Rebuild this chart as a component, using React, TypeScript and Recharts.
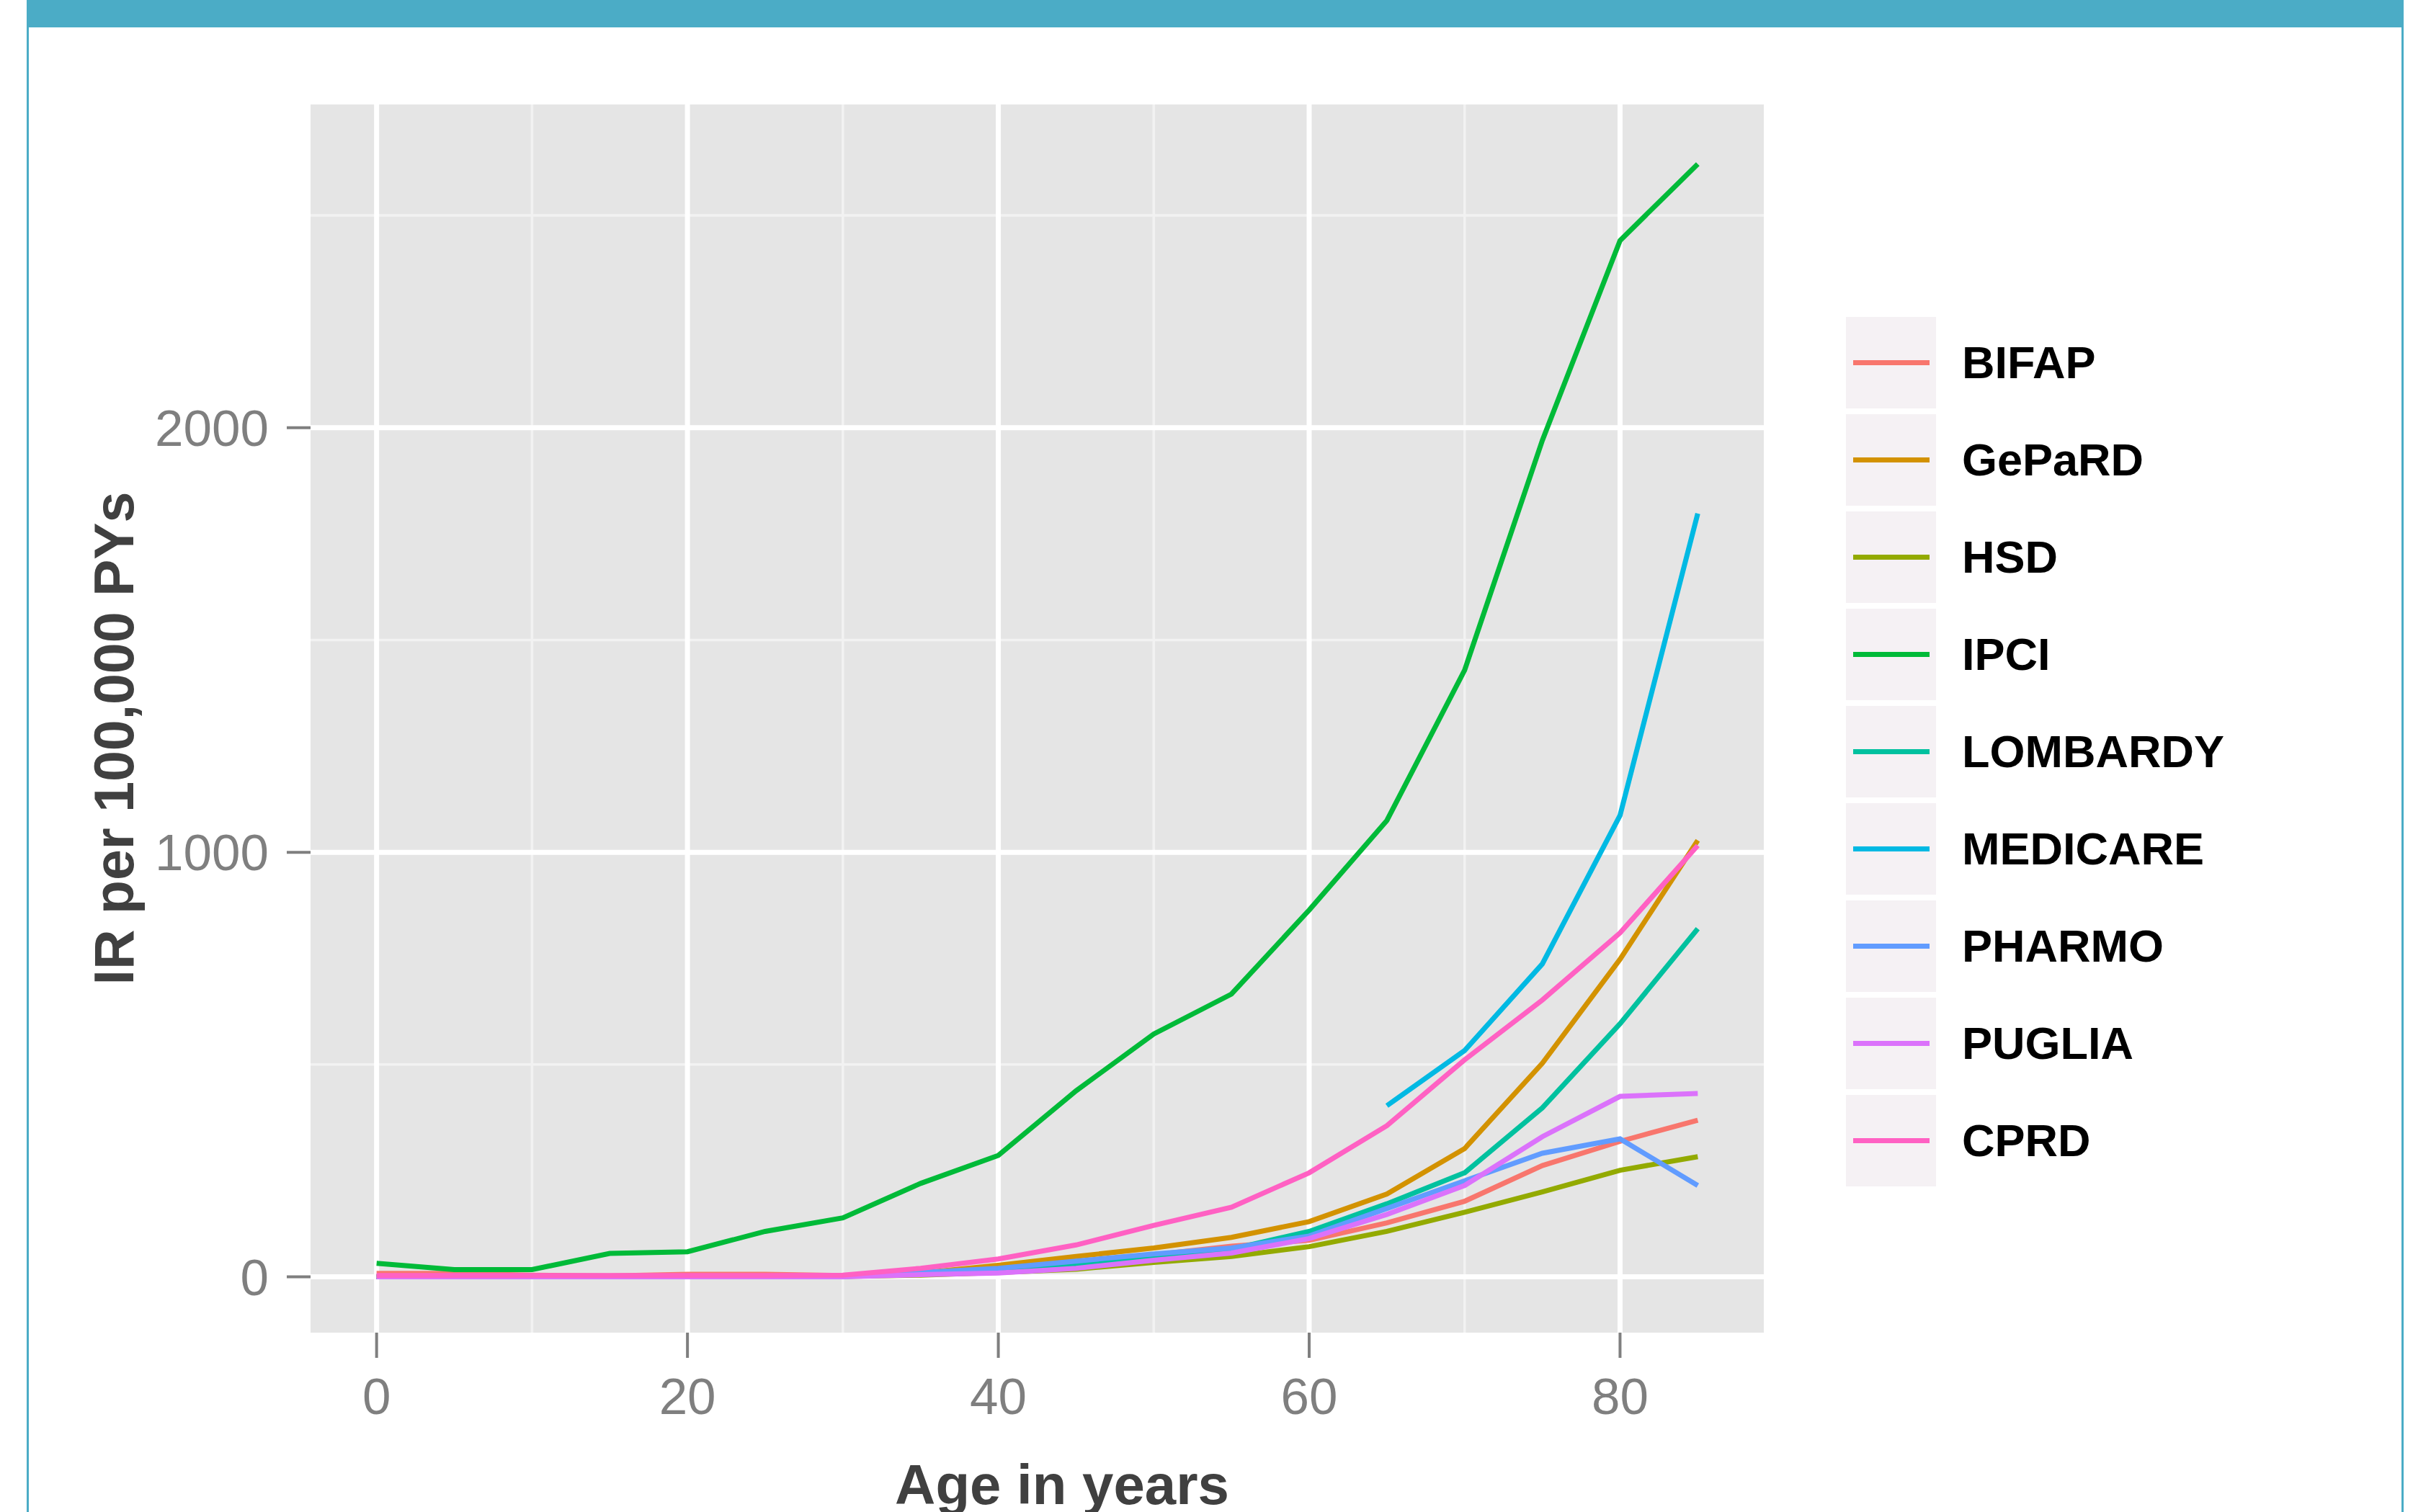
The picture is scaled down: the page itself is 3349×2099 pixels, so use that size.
import React from 'react';
import { LineChart, Line, XAxis, YAxis, CartesianGrid, Legend } from 'recharts';

const FONT = '"Liberation Sans", Arial, Helvetica, sans-serif';

// age groups (years)
const AGES = [0, 5, 10, 15, 20, 25, 30, 35, 40, 45, 50, 55, 60, 65, 70, 75, 80, 85];

// incidence rate per 100,000 person-years
const BIFAP = [8, 8, 4, 2, 6, 6, 3, 8, 15, 30, 52, 72, 86, 127, 178, 262, 319, 369];
const GEPARD = [0, 0, 0, 0, 0, 0, 2, 9, 27, 48, 68, 93, 130, 195, 302, 503, 748, 1028];
const HSD = [0, 0, 0, 0, 0, 0, 1, 4, 10, 18, 34, 48, 71, 107, 152, 200, 251, 283];
const IPCI = [32, 17, 17, 55, 59, 107, 139, 220, 286, 438, 572, 666, 864, 1075, 1429, 1970, 2441, 2621];
const LOMBARDY = [0, 0, 0, 0, 0, 0, 1, 6, 14, 29, 48, 65, 107, 172, 245, 398, 596, 820];
const MEDICARE = [null, null, null, null, null, null, null, null, null, null, null, null, null, 403, 533, 737, 1087, 1798];
const PHARMO = [0, 0, 0, 0, 0, 0, 1, 10, 20, 37, 54, 68, 96, 161, 226, 291, 325, 215];
const PUGLIA = [0, 0, 0, 0, 0, 0, 0, 5, 9, 20, 39, 56, 90, 147, 215, 330, 425, 432];
const CPRD = [3, 3, 3, 3, 3, 3, 4, 20, 42, 75, 121, 164, 245, 356, 511, 652, 810, 1016];

const X_TICKS = [0, 20, 40, 60, 80];
const X_MINOR = [10, 30, 50, 70];
const Y_TICKS = [0, 1000, 2000];
const Y_MINOR = [500, 1500, 2500];

const SERIES = [
  { name: 'BIFAP', color: '#F8766D', values: BIFAP },
  { name: 'GePaRD', color: '#D39200', values: GEPARD },
  { name: 'HSD', color: '#93AA00', values: HSD },
  { name: 'IPCI', color: '#00BA38', values: IPCI },
  { name: 'LOMBARDY', color: '#00C19F', values: LOMBARDY },
  { name: 'MEDICARE', color: '#00B9E3', values: MEDICARE },
  { name: 'PHARMO', color: '#619CFF', values: PHARMO },
  { name: 'PUGLIA', color: '#DB72FB', values: PUGLIA },
  { name: 'CPRD', color: '#FF61C3', values: CPRD },
];

const data = AGES.map((age, i) => {
  const row: Record<string, number | null> = { age };
  SERIES.forEach(s => { row[s.name] = s.values[i]; });
  return row;
});

const LegendBox = () => (
  <div style={{ fontFamily: FONT }}>
    {SERIES.map(s => (
      <div key={s.name} style={{ display: 'flex', alignItems: 'center', height: 127, marginBottom: 8 }}>
        <div style={{ width: 125, height: 127, background: '#F5F1F4', position: 'relative' }}>
          <div style={{ position: 'absolute', left: 10, right: 9, top: 60, height: 7, background: s.color }} />
        </div>
        <span style={{ marginLeft: 36, fontSize: 63, fontWeight: 'bold', color: '#000', lineHeight: 1 }}>
          {s.name}
        </span>
      </div>
    ))}
  </div>
);

const tickStyle = { fill: '#7F7F7F', fontSize: 71, fontFamily: FONT };

export default function App() {
  return (
    <div style={{ position: 'relative', width: 3349, height: 2099, background: '#fff', overflow: 'hidden' }}>
      <style>{'body{margin:0}'}</style>
      <LineChart
        width={3349}
        height={2099}
        data={data}
        margin={{ top: 145, right: 901, left: 0, bottom: 0 }}
      >
        <CartesianGrid
          fill="#E5E5E5"
          stroke="#F2F2F2"
          strokeWidth={3.5}
          verticalValues={X_MINOR}
          horizontalValues={Y_MINOR}
        />
        <CartesianGrid
          fill="none"
          stroke="#FFFFFF"
          strokeWidth={7}
          verticalValues={X_TICKS}
          horizontalValues={Y_TICKS}
        />
        <XAxis
          type="number"
          dataKey="age"
          domain={[-4.25, 89.25]}
          ticks={X_TICKS}
          allowDataOverflow
          height={249}
          axisLine={false}
          tickSize={35}
          tickMargin={28}
          tickLine={{ stroke: '#7F7F7F', strokeWidth: 4 }}
          tick={tickStyle}
        />
        <YAxis
          type="number"
          domain={[-131.5, 2761.5]}
          ticks={Y_TICKS}
          allowDataOverflow
          width={431}
          axisLine={false}
          tickSize={33}
          tickMargin={25}
          tickLine={{ stroke: '#7F7F7F', strokeWidth: 4 }}
          tick={tickStyle}
        />
        {SERIES.map(s => (
          <Line
            key={s.name}
            type="linear"
            dataKey={s.name}
            stroke={s.color}
            strokeWidth={7}
            dot={false}
            activeDot={false}
            isAnimationActive={false}
          />
        ))}
        <Legend
          layout="vertical"
          align="center"
          verticalAlign="middle"
          content={() => <LegendBox />}
          wrapperStyle={{ left: 2562, top: 440, width: 700, height: 1220 }}
        />
      </LineChart>
      <svg
        width={3349}
        height={2099}
        style={{ position: 'absolute', left: 0, top: 0, pointerEvents: 'none' }}
      >
        <rect x={38} y={0} width={3298} height={38} fill="#4BACC6" />
        <rect x={37} y={0} width={3} height={2099} fill="#4BACC6" />
        <rect x={3333} y={0} width={3} height={2099} fill="#4BACC6" />
        <text
          x={1474}
          y={2088}
          textAnchor="middle"
          fontFamily={FONT}
          fontWeight="bold"
          fontSize={78}
          fill="#404040"
        >
          Age in years
        </text>
        <text
          transform="translate(185,1025) rotate(-90)"
          textAnchor="middle"
          fontFamily={FONT}
          fontWeight="bold"
          fontSize={77}
          fill="#404040"
        >
          IR per 100,000 PYs
        </text>
      </svg>
    </div>
  );
}
